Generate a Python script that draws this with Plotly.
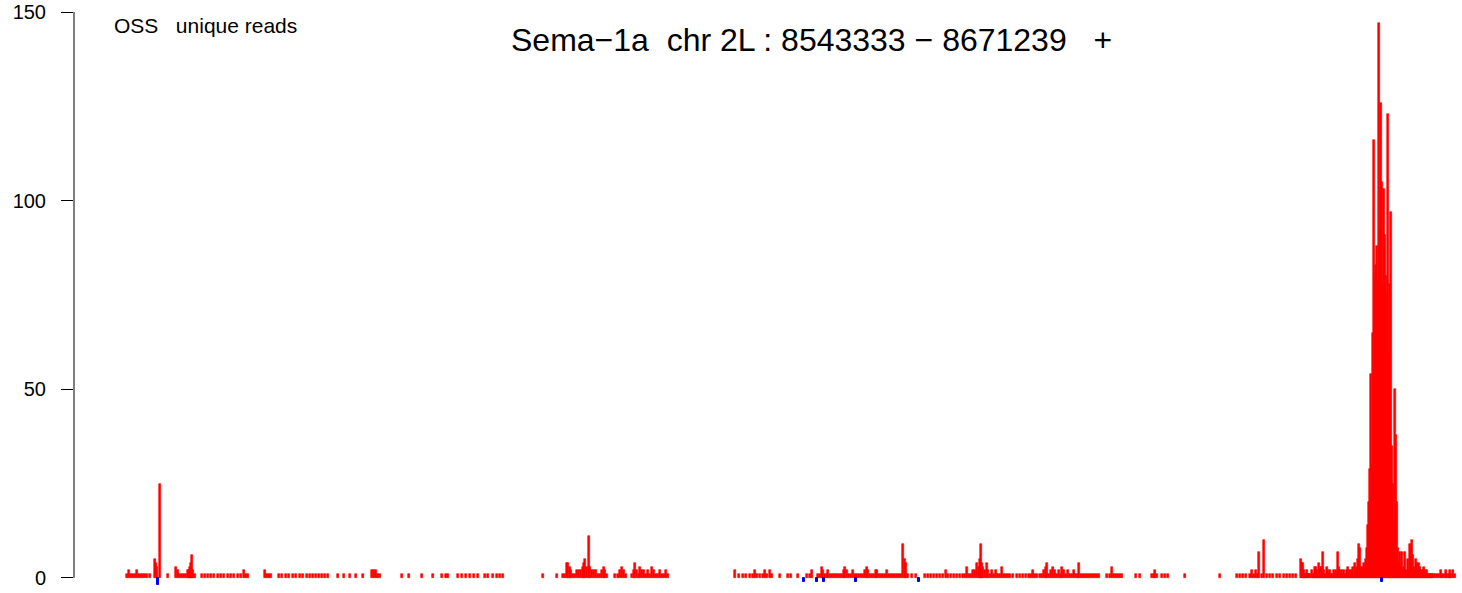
import plotly.graph_objects as go

# ---- gene / track metadata ----
GENE = "Sema\u22121a"
CHROM = "chr 2L"
GENE_START = 8543333
GENE_END = 8671239
STRAND = "+"
N_BINS = 1328
BIN_BP = (GENE_END - GENE_START) / N_BINS   # ~96 bp per bin
TRACK_LABEL = "OSS   unique reads"
Y_TICKS = [0, 50, 100, 150]

# ---- sense (plus-strand) unique reads per bin ----
sense_bins_a = [0, 2, 4, 6, 8, 10, 12, 14, 16, 18, 20, 23, 28, 29, 30, 33, 41, 49, 51, 53,
                55, 57, 59, 61, 62, 63, 64, 65, 66, 68]
sense_counts_a = [1, 2, 1, 1, 1, 2, 1, 1, 1, 1, 1, 1, 5, 4, 3, 25, 1, 3, 2, 1,
                  1, 1, 1, 2, 2, 3, 4, 6, 2, 1]

sense_bins_b = [75, 78, 81, 84, 87, 91, 94, 97, 101, 104, 107, 111, 114, 117, 119, 121,
                138, 140, 142, 144, 152, 155, 159, 162, 166, 169, 173, 176, 180, 183,
                186, 189, 192, 195, 198, 201]
sense_counts_b = [1, 1, 1, 1, 1, 1, 1, 1, 1, 1, 1, 1, 1, 2, 1, 1,
                  2, 1, 1, 1, 1, 1, 1, 1, 1, 1, 1, 1, 1, 1,
                  1, 1, 1, 1, 1, 1]

sense_bins_c = [211, 217, 223, 229, 236, 245, 247, 249, 251, 253,
                275, 282, 295, 306, 315, 319, 321, 331, 335, 339,
                343, 347, 351, 358, 361, 366, 370, 373, 376, 416, 430]
sense_counts_c = [1, 1, 1, 1, 1, 2, 2, 2, 1, 1,
                  1, 1, 1, 1, 1, 1, 1, 1, 1, 1,
                  1, 1, 1, 1, 1, 1, 1, 1, 1, 1, 1]

sense_bins_d = [436, 438, 440, 441, 443, 444, 446, 448, 450, 452,
                454, 456, 457, 458, 460, 462, 463, 465, 467, 469,
                471, 473, 475, 477, 478, 480,
                488, 491, 493, 495, 497, 499,
                505, 507, 508, 510, 512, 513, 515, 517, 519, 521,
                523, 525, 527, 529, 531, 533, 535, 537, 539, 541]
sense_counts_d = [1, 1, 4, 4, 3, 2, 1, 1, 2, 2,
                  2, 3, 4, 5, 3, 11, 3, 2, 2, 2,
                  1, 1, 2, 3, 2, 1,
                  1, 1, 2, 3, 2, 1,
                  1, 2, 4, 2, 1, 3, 2, 2, 1, 2,
                  1, 3, 2, 1, 1, 2, 1, 1, 2, 1]

sense_bins_e = [608, 612, 616, 619, 623, 626, 628, 630, 633, 636,
                638, 640, 643, 645, 653, 661, 664, 671]
sense_counts_e = [2, 1, 1, 1, 1, 1, 2, 1, 1, 1,
                  2, 1, 2, 1, 1, 1, 1, 1]

sense_bins_f = [680, 683, 685, 691, 693, 695, 696, 698, 700, 701,
                703, 705, 707, 709, 711, 713, 715, 717, 718, 720,
                722, 724, 726, 728, 730, 732, 734, 736, 738, 740,
                741, 743, 745, 747, 749, 750, 752, 754, 756, 758,
                760, 762, 764, 766, 768, 770, 772, 774, 776, 778,
                779, 781, 785, 789, 798, 801, 804, 807, 810, 813,
                816, 819, 821, 824, 827, 830, 833, 836]
sense_counts_f = [1, 1, 2, 1, 1, 3, 2, 1, 1, 2,
                  1, 1, 1, 1, 1, 1, 1, 2, 3, 2,
                  1, 1, 2, 1, 1, 1, 1, 1, 2, 3,
                  2, 1, 1, 1, 2, 2, 1, 1, 1, 1,
                  2, 1, 1, 1, 1, 1, 1, 1, 9, 5,
                  4, 1, 1, 1, 1, 1, 1, 1, 1, 1,
                  1, 2, 1, 1, 1, 1, 1, 1]

sense_bins_g = [838, 840, 842, 844, 846, 848, 850, 852, 853, 854,
                855, 856, 858, 860, 861, 863, 865, 867, 869, 871,
                873, 875, 877, 879, 881, 883]
sense_counts_g = [1, 3, 1, 1, 2, 2, 4, 3, 5, 9,
                  4, 3, 2, 4, 2, 1, 2, 1, 2, 1,
                  1, 3, 1, 1, 1, 1]

sense_bins_h = [886, 890, 893, 896, 899, 902, 904, 906, 908, 910,
                913, 915, 917, 919, 920, 922, 924, 926, 928, 930,
                932, 934, 935, 937, 939, 941, 943, 945, 947, 949,
                951, 952, 954, 956, 958, 960, 962, 964, 966, 968,
                970, 972, 980]
sense_counts_h = [1, 1, 1, 1, 1, 1, 1, 2, 1, 1,
                  1, 1, 2, 3, 4, 1, 2, 3, 2, 1,
                  2, 1, 3, 2, 1, 2, 1, 1, 2, 1,
                  1, 4, 1, 1, 1, 1, 1, 1, 1, 1,
                  1, 1, 1]

sense_bins_i = [983, 985, 987, 989, 991, 993, 995, 1009, 1013, 1025,
                1027, 1028, 1030, 1035, 1038, 1041, 1058,
                1093, 1110, 1113, 1116, 1119, 1123, 1125, 1127, 1129,
                1131, 1132, 1135, 1137, 1140, 1143, 1146, 1150, 1153,
                1157, 1160, 1163, 1166, 1169]
sense_counts_i = [1, 3, 1, 1, 1, 1, 1, 1, 1, 1,
                  1, 2, 1, 1, 1, 1, 1,
                  1, 1, 1, 1, 1, 1, 2, 1, 2,
                  1, 7, 1, 10, 1, 1, 1, 1, 1,
                  1, 1, 1, 1, 1]

sense_bins_j = [1174, 1175, 1176, 1177, 1178, 1179, 1180, 1181, 1182, 1183,
                1185, 1186, 1187, 1188, 1189, 1190, 1191, 1192, 1193, 1194,
                1195, 1196, 1197, 1198, 1199, 1200, 1201, 1202, 1203, 1204,
                1205, 1206, 1207, 1208, 1209, 1210, 1211, 1212, 1213, 1214,
                1215, 1216, 1217, 1218, 1219, 1220, 1221, 1222, 1223, 1224,
                1225, 1226, 1227, 1228, 1229, 1230, 1231, 1232, 1233, 1234,
                1235, 1236, 1237, 1238]
sense_counts_j = [5, 4, 4, 2, 1, 1, 2, 1, 1, 1,
                  2, 1, 1, 3, 3, 2, 1, 4, 2, 3,
                  3, 7, 2, 1, 1, 3, 2, 1, 2, 1,
                  1, 1, 2, 1, 2, 1, 7, 3, 2, 1,
                  2, 1, 2, 1, 1, 2, 3, 1, 2, 1,
                  2, 3, 1, 4, 2, 3, 5, 9, 8, 3,
                  2, 3, 4, 3]

sense_bins_k = [1239, 1240, 1241, 1242, 1243, 1244, 1245, 1246, 1247, 1248,
                1249, 1250, 1251, 1252, 1253, 1254, 1255, 1256, 1257, 1258,
                1259, 1260, 1261, 1262, 1263, 1264, 1265, 1266, 1267, 1268,
                1269, 1270]
sense_counts_k = [5, 8, 14, 20, 29, 54, 30, 65, 116, 80,
                  83, 88, 79, 147, 92, 126, 105, 78, 103, 91,
                  80, 75, 123, 60, 78, 97, 35, 25, 15, 50,
                  38, 20]

sense_bins_l = [1271, 1272, 1273, 1274, 1275, 1276, 1277, 1278, 1279, 1280,
                1281, 1282, 1283, 1284, 1285, 1286, 1287, 1288, 1289, 1290,
                1291, 1292, 1293, 1294, 1295, 1296, 1297, 1298, 1299, 1300,
                1301, 1302, 1303, 1304, 1305, 1306,
                1308, 1310, 1312, 1314, 1315, 1317, 1319, 1320, 1322, 1323,
                1324, 1326, 1328]
sense_counts_l = [8, 4, 7, 3, 7, 2, 3, 7, 2, 1,
                  5, 2, 9, 8, 10, 6, 3, 2, 5, 4,
                  2, 4, 3, 2, 1, 2, 3, 2, 1, 2,
                  1, 1, 1, 1, 1, 1,
                  1, 1, 1, 2, 1, 1, 2, 1, 1, 2,
                  1, 2, 1]

# ---- antisense (minus-strand) unique reads per bin ----
anti_bins = [31, 677, 690, 697, 729, 792, 1255]
anti_counts = [-2, -1, -1, -1, -1, -1, -1]

sense_bins = (sense_bins_a + sense_bins_b + sense_bins_c + sense_bins_d + sense_bins_e +
              sense_bins_f + sense_bins_g + sense_bins_h + sense_bins_i + sense_bins_j +
              sense_bins_k + sense_bins_l)
sense_counts = (sense_counts_a + sense_counts_b + sense_counts_c + sense_counts_d +
                sense_counts_e + sense_counts_f + sense_counts_g + sense_counts_h +
                sense_counts_i + sense_counts_j + sense_counts_k + sense_counts_l)
assert len(sense_bins) == len(sense_counts), (len(sense_bins), len(sense_counts))

sense_pos = [GENE_START + b * BIN_BP for b in sense_bins]
anti_pos = [GENE_START + b * BIN_BP for b in anti_bins]

FONT = "Liberation Sans, Arial, Helvetica, sans-serif"

fig = go.Figure()
fig.add_trace(go.Bar(x=sense_pos, y=sense_counts, width=2 * BIN_BP,
                     marker=dict(color="#FF0000", line=dict(width=0.6, color="#FF0000")),
                     hoverinfo="x+y"))
fig.add_trace(go.Bar(x=anti_pos, y=anti_counts, width=2 * BIN_BP,
                     marker=dict(color="#0000FF", line=dict(width=1, color="#0000FF")),
                     hoverinfo="x+y"))

fig.update_layout(
    width=1462, height=593,
    margin=dict(l=74, r=0, t=4, b=2),
    plot_bgcolor="white", paper_bgcolor="white",
    showlegend=False, barmode="overlay", bargap=0,
    font=dict(family=FONT, color="black"),
    xaxis=dict(range=[GENE_START - 53 * BIN_BP, GENE_START + 1335 * BIN_BP],
               visible=False, showgrid=False, zeroline=False),
    yaxis=dict(range=[-3.46, 152.12], tickvals=Y_TICKS,
               ticktext=[str(t) for t in Y_TICKS],
               ticks="outside", ticklen=12, tickwidth=1, tickcolor="black",
               ticklabelstandoff=11, ticklabeloverflow="allow",
               showgrid=False, zeroline=False, showline=False,
               tickfont=dict(family=FONT, size=20, color="black")),
    shapes=[dict(type="line", xref="paper", yref="y", x0=0, x1=0,
                 y0=Y_TICKS[0], y1=Y_TICKS[-1], line=dict(color="black", width=1))],
    annotations=[
        dict(text=f"{GENE}  {CHROM} : {GENE_START} \u2212 {GENE_END}   {STRAND}",
             xref="paper", yref="paper", x=0.531, y=0.9387,
             xanchor="center", yanchor="middle", showarrow=False,
             font=dict(family=FONT, size=32, color="black")),
        dict(text=TRACK_LABEL, xref="paper", yref="paper", x=0.0274, y=0.9642,
             xanchor="left", yanchor="middle", showarrow=False,
             font=dict(family=FONT, size=21, color="black")),
    ],
)

fig.write_html("out.html", config={"displayModeBar": False},
               post_script="document.body.style.margin='0px';")
